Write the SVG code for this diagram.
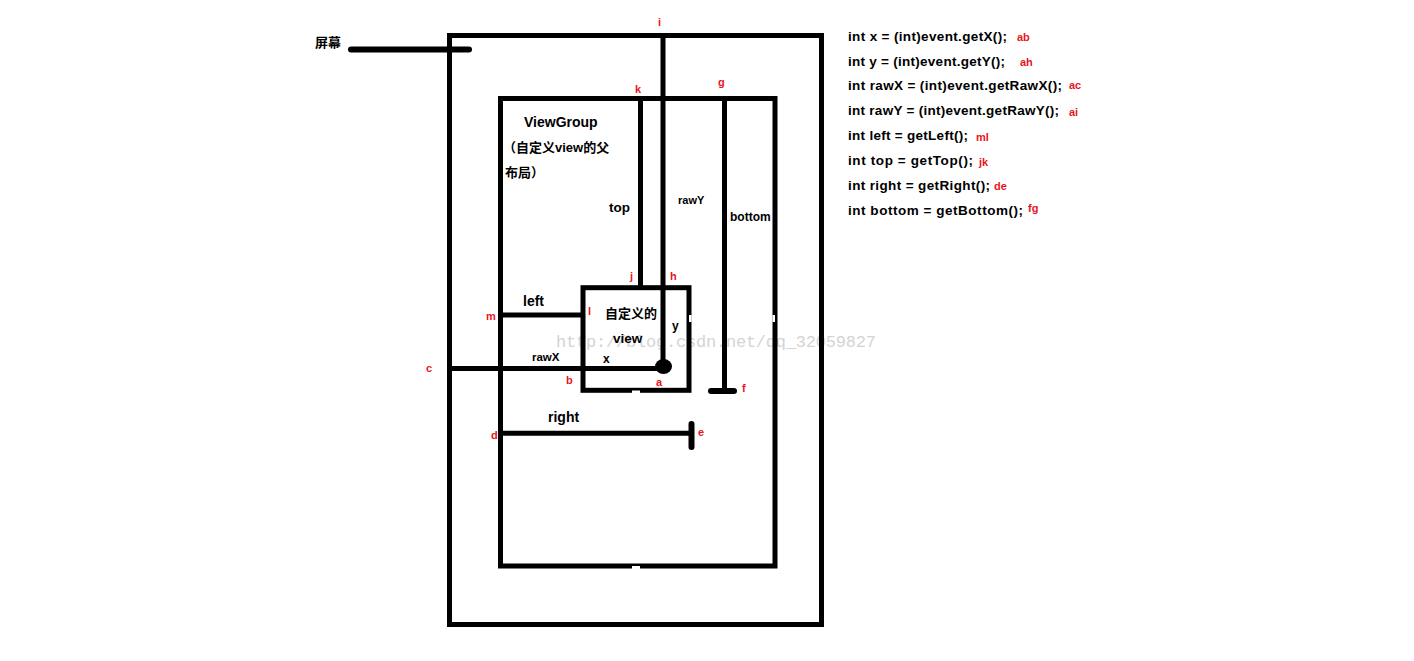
<svg xmlns="http://www.w3.org/2000/svg" width="1414" height="661" viewBox="0 0 1414 661">
<style>
.box{fill:none;stroke:#000;stroke-width:5}
.ln{stroke:#000;stroke-width:5;fill:none}
.cap{stroke:#000;stroke-width:6;stroke-linecap:round;fill:none}
.t{font-family:"Liberation Sans","Noto Sans CJK SC",sans-serif;font-weight:bold;fill:#000}
.r{font-family:"Liberation Sans",sans-serif;font-weight:bold;fill:#e8141e;font-size:11px}
.code{font-family:"Liberation Sans",sans-serif;font-weight:bold;fill:#000;font-size:13.5px}
.wm{font-family:"Liberation Mono",monospace;fill:#d4d4d4;font-size:17px}
</style>
<rect width="1414" height="661" fill="#fff"/>
<text class="wm" x="556" y="347" textLength="320">http://blog.csdn.net/qq_32059827</text>
<g id="screen">
<rect class="box" x="449.5" y="35.5" width="372" height="589"/>
<text class="t" x="315" y="47" font-size="13">屏幕</text>
</g>
<g id="viewgroup">
<rect class="box" x="500.5" y="98.5" width="274.5" height="467.5"/>
<rect x="632" y="566" width="8" height="3" fill="#fff"/>
<rect x="772.5" y="315" width="2.5" height="7" fill="#fff"/>
<text class="t" x="524" y="127" font-size="14">ViewGroup</text>
<text class="t" x="503" y="152" font-size="13">（自定义view的父</text>
<text class="t" x="505" y="177" font-size="13">布局）</text>
</g>
<g id="customview">
<rect class="box" x="583" y="287.7" width="106" height="102.6"/>
<rect x="632" y="390.5" width="8" height="3" fill="#fff"/>
<rect x="689" y="315" width="2.6" height="7" fill="#fff"/>
<text class="t" x="605" y="318" font-size="13">自定义的</text>
<text class="t" x="613" y="343" font-size="13.5">view</text>
</g>
<g id="connectors">
<line class="cap" x1="351" y1="49.5" x2="469" y2="49.5"/>
<line class="ln" x1="663" y1="35.5" x2="663" y2="366"/>
<line class="ln" x1="640.5" y1="98.5" x2="640.5" y2="287.7"/>
<line class="ln" x1="724.5" y1="98.5" x2="724.5" y2="391"/>
<line class="cap" x1="711" y1="391" x2="734" y2="391"/>
<line class="ln" x1="500.5" y1="315" x2="583" y2="315"/>
<line class="ln" x1="449.5" y1="368.5" x2="663" y2="368.5"/>
<ellipse cx="663.5" cy="366.5" rx="8.5" ry="7.5" fill="#000"/>
<line class="ln" x1="500.5" y1="433.3" x2="691.5" y2="433.3"/>
<line class="cap" x1="691.5" y1="424" x2="691.5" y2="447"/>
</g>
<g id="labels">
<text class="t" x="609" y="212" font-size="13.5">top</text>
<text class="t" x="678" y="204" font-size="11">rawY</text>
<text class="t" x="730" y="221" font-size="12">bottom</text>
<text class="t" x="523" y="306" font-size="14">left</text>
<text class="t" x="672" y="330" font-size="12">y</text>
<text class="t" x="532" y="361" font-size="11.5">rawX</text>
<text class="t" x="603" y="363" font-size="12">x</text>
<text class="t" x="548" y="422" font-size="14">right</text>
<text class="r" x="658" y="26">i</text>
<text class="r" x="635" y="93">k</text>
<text class="r" x="718" y="86">g</text>
<text class="r" x="630" y="280">j</text>
<text class="r" x="670" y="280">h</text>
<text class="r" x="486" y="320">m</text>
<text class="r" x="588" y="315">l</text>
<text class="r" x="566" y="384">b</text>
<text class="r" x="656" y="386">a</text>
<text class="r" x="426" y="372">c</text>
<text class="r" x="742" y="392">f</text>
<text class="r" x="491" y="439">d</text>
<text class="r" x="698" y="436">e</text>
</g>
<g id="code">
<text class="code" x="848" y="41" textLength="159">int x = (int)event.getX();</text>
<text class="code" x="848" y="66" textLength="157">int y = (int)event.getY();</text>
<text class="code" x="848" y="90" textLength="214">int rawX = (int)event.getRawX();</text>
<text class="code" x="848" y="115" textLength="211">int rawY = (int)event.getRawY();</text>
<text class="code" x="848" y="140" textLength="120">int left = getLeft();</text>
<text class="code" x="848" y="165" textLength="125">int top = getTop();</text>
<text class="code" x="848" y="190" textLength="142">int right = getRight();</text>
<text class="code" x="848" y="215" textLength="175">int bottom = getBottom();</text>
<text class="r" x="1017" y="41">ab</text>
<text class="r" x="1020" y="66">ah</text>
<text class="r" x="1069" y="89">ac</text>
<text class="r" x="1069" y="116">ai</text>
<text class="r" x="976" y="141">ml</text>
<text class="r" x="979" y="166">jk</text>
<text class="r" x="994" y="190">de</text>
<text class="r" x="1028" y="212">fg</text>
</g>
</svg>
